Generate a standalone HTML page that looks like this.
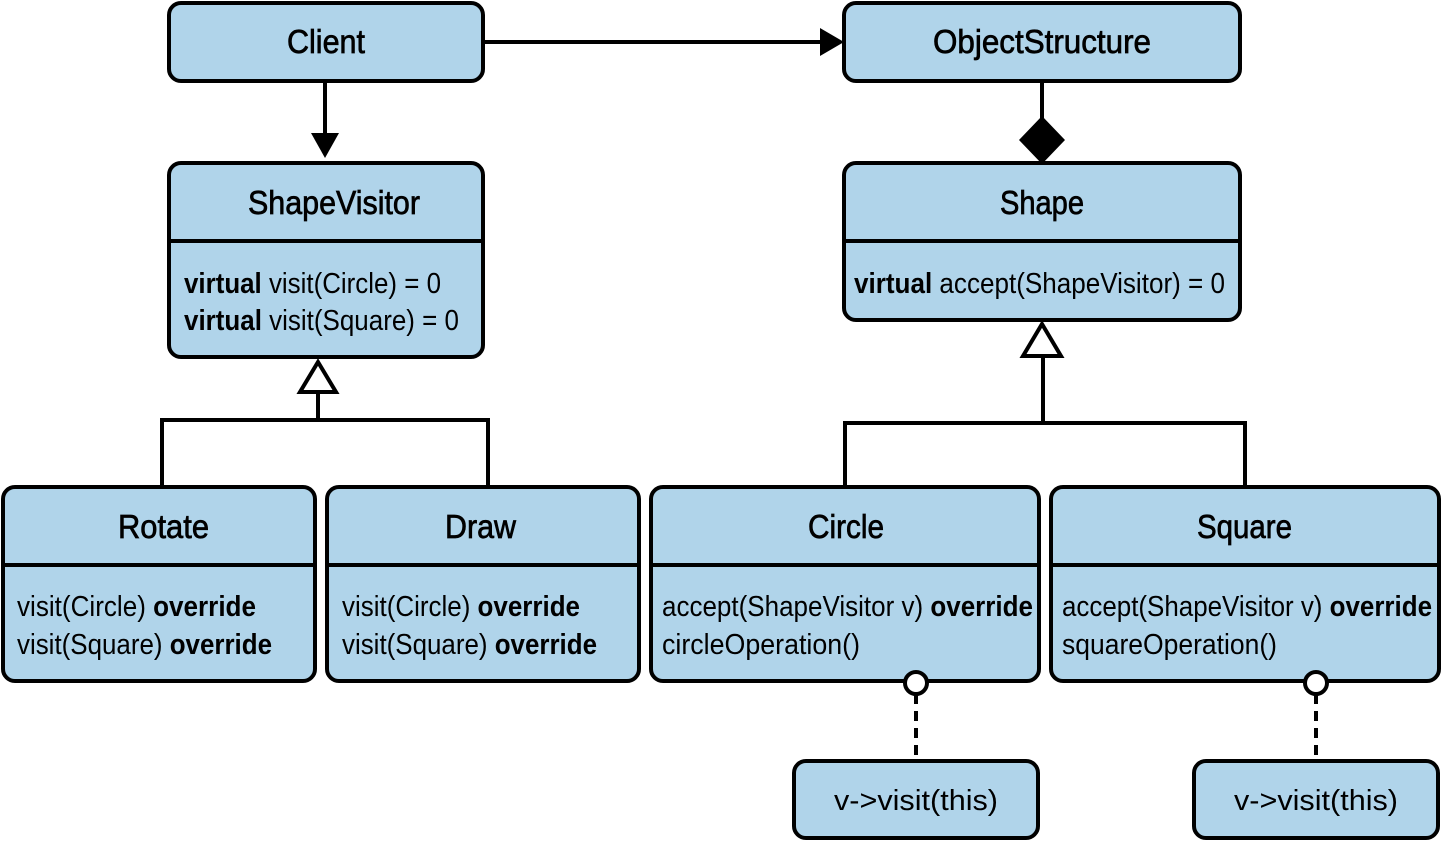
<!DOCTYPE html>
<html><head><meta charset="utf-8"><style>html,body{margin:0;padding:0;background:#fff}svg{display:block}</style></head>
<body>
<svg width="1442" height="842" viewBox="0 0 1442 842" xmlns="http://www.w3.org/2000/svg" font-family="Liberation Sans, sans-serif" fill="#000">
<g fill="#b0d4ea" stroke="#000" stroke-width="4">
<rect x="169" y="3" width="314" height="78" rx="12"/>
<rect x="844" y="3" width="396" height="78" rx="12"/>
<rect x="169" y="163" width="314" height="194" rx="12"/>
<rect x="844" y="163" width="396" height="157" rx="12"/>
<rect x="3" y="487" width="312" height="194" rx="12"/>
<rect x="327" y="487" width="312" height="194" rx="12"/>
<rect x="651" y="487" width="388" height="194" rx="12"/>
<rect x="1051" y="487" width="388" height="194" rx="12"/>
<rect x="794" y="761" width="244" height="77" rx="12"/>
<rect x="1194" y="761" width="244" height="77" rx="12"/>
</g>
<g stroke="#000" stroke-width="4" fill="none">
<line x1="169" y1="241" x2="483" y2="241"/>
<line x1="844" y1="241" x2="1240" y2="241"/>
<line x1="3" y1="565" x2="315" y2="565"/>
<line x1="327" y1="565" x2="639" y2="565"/>
<line x1="651" y1="565" x2="1039" y2="565"/>
<line x1="1051" y1="565" x2="1439" y2="565"/>
<line x1="483" y1="42" x2="822" y2="42"/>
<line x1="325" y1="81" x2="325" y2="135"/>
<line x1="1042" y1="81" x2="1042" y2="118"/>
<polyline points="318,393 318,420 162,420 162,487"/>
<polyline points="318,420 488,420 488,487"/>
<polyline points="1043,357 1043,423 845,423 845,487"/>
<polyline points="1043,423 1245,423 1245,487"/>
<line x1="916" y1="694" x2="916" y2="761" stroke-dasharray="10,7"/>
<line x1="1316" y1="694" x2="1316" y2="761" stroke-dasharray="10,7"/>
</g>
<polygon points="820,28 844,42 820,56"/>
<polygon points="311,133 339,133 325,158"/>
<polygon points="1042,116 1065,140 1042,164 1019,140"/>
<g fill="#fff" stroke="#000" stroke-width="4">
<polygon points="318,362 300,392 336,392"/>
<polygon points="1042,324 1023,356 1061,356"/>
<circle cx="916" cy="683" r="11"/>
<circle cx="1316" cy="683" r="11"/>
</g>
<g font-size="33" stroke="#000" stroke-width="0.7">
<text x="287" y="53" textLength="78" lengthAdjust="spacingAndGlyphs">Client</text>
<text x="933" y="53" textLength="218" lengthAdjust="spacingAndGlyphs">ObjectStructure</text>
<text x="248" y="214" textLength="172" lengthAdjust="spacingAndGlyphs">ShapeVisitor</text>
<text x="1000" y="214" textLength="84" lengthAdjust="spacingAndGlyphs">Shape</text>
<text x="118" y="538" textLength="91" lengthAdjust="spacingAndGlyphs">Rotate</text>
<text x="445" y="538" textLength="71" lengthAdjust="spacingAndGlyphs">Draw</text>
<text x="808" y="538" textLength="76" lengthAdjust="spacingAndGlyphs">Circle</text>
<text x="1197" y="538" textLength="95" lengthAdjust="spacingAndGlyphs">Square</text>
</g>
<g font-size="29">
<text x="184" y="293" textLength="257" lengthAdjust="spacingAndGlyphs"><tspan font-weight="bold">virtual</tspan> visit(Circle) = 0</text>
<text x="184" y="330" textLength="275" lengthAdjust="spacingAndGlyphs"><tspan font-weight="bold">virtual</tspan> visit(Square) = 0</text>
<text x="854" y="293" textLength="371" lengthAdjust="spacingAndGlyphs"><tspan font-weight="bold">virtual</tspan> accept(ShapeVisitor) = 0</text>
<text x="17" y="616" textLength="239" lengthAdjust="spacingAndGlyphs">visit(Circle) <tspan font-weight="bold">override</tspan></text>
<text x="17" y="654" textLength="255" lengthAdjust="spacingAndGlyphs">visit(Square) <tspan font-weight="bold">override</tspan></text>
<text x="342" y="616" textLength="238" lengthAdjust="spacingAndGlyphs">visit(Circle) <tspan font-weight="bold">override</tspan></text>
<text x="342" y="654" textLength="255" lengthAdjust="spacingAndGlyphs">visit(Square) <tspan font-weight="bold">override</tspan></text>
<text x="662" y="616" textLength="371" lengthAdjust="spacingAndGlyphs">accept(ShapeVisitor v) <tspan font-weight="bold">override</tspan></text>
<text x="662" y="654" textLength="198" lengthAdjust="spacingAndGlyphs">circleOperation()</text>
<text x="1062" y="616" textLength="370" lengthAdjust="spacingAndGlyphs">accept(ShapeVisitor v) <tspan font-weight="bold">override</tspan></text>
<text x="1062" y="654" textLength="215" lengthAdjust="spacingAndGlyphs">squareOperation()</text>
<text x="834" y="810" textLength="164" lengthAdjust="spacingAndGlyphs">v-&gt;visit(this)</text>
<text x="1234" y="810" textLength="164" lengthAdjust="spacingAndGlyphs">v-&gt;visit(this)</text>
</g>
</svg>
</body></html>
